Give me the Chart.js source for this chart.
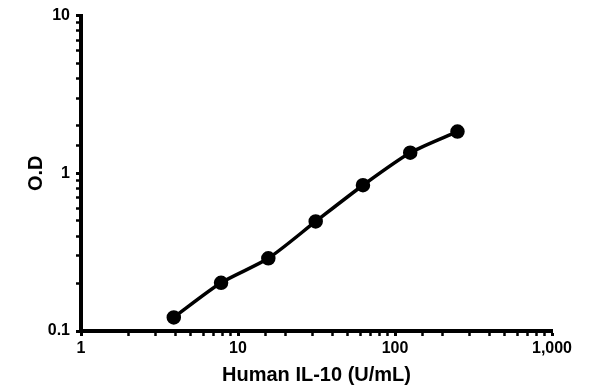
<!DOCTYPE html>
<html>
<head>
<meta charset="utf-8">
<script src="https://cdn.jsdelivr.net/npm/chart.js@4"></script>
<style>
  html, body { margin: 0; padding: 0; background: #fff; }
  #wrap { width: 596px; height: 392px; }
</style>
</head>
<body>
<div id="wrap"><canvas id="myChart"></canvas></div>
<script>
const concentration = [3.9, 7.8, 15.6, 31.25, 62.5, 125, 250];
const od = [0.122, 0.202, 0.289, 0.495, 0.84, 1.35, 1.84];
const xTicks = [1, 10, 100, 1000];
const yTicks = [0.1, 1, 10];

const isMajor = (v, list) => list.some(t => Math.abs(t - v) < t * 1e-6);
const font = { family: 'Arial, "Liberation Sans", sans-serif', weight: 'bold' };

const ctx = document.getElementById('myChart');
new Chart(ctx, {
  type: 'line',
  data: {
    datasets: [{
      label: 'O.D',
      data: concentration.map((c, i) => ({ x: c, y: od[i] })),
      borderColor: '#000',
      backgroundColor: '#000',
      borderWidth: 3.5,
      pointRadius: 5.5,
      pointHoverRadius: 5.5,
      tension: 0.25
    }]
  },
  options: {
    responsive: true,
    maintainAspectRatio: false,
    animation: false,
    layout: { padding: { top: 14, right: 44, left: 24, bottom: 0 } },
    plugins: { legend: { display: false }, tooltip: { enabled: false } },
    scales: {
      x: {
        type: 'logarithmic',
        min: 1,
        max: 1000,
        afterFit: s => { s.height = 61; },
        border: { color: '#000', width: 4 },
        grid: {
          drawOnChartArea: false,
          tickLength: 5,
          tickColor: '#000',
          tickWidth: c => isMajor(c.tick.value, xTicks) ? 3 : 2.5
        },
        ticks: {
          autoSkip: false,
          maxRotation: 0,
          color: '#000',
          padding: 3,
          font: { ...font, size: 16 },
          callback: v => isMajor(v, xTicks) ? v.toLocaleString('en-US') : ''
        },
        title: {
          display: true,
          text: 'Human IL-10 (U/mL)',
          color: '#000',
          font: { ...font, size: 20 },
          padding: { top: 0, bottom: 5 }
        }
      },
      y: {
        type: 'logarithmic',
        min: 0.1,
        max: 10,
        afterFit: s => { s.width = 57; },
        border: { color: '#000', width: 4 },
        grid: {
          drawOnChartArea: false,
          tickLength: 5,
          tickColor: '#000',
          tickWidth: c => isMajor(c.tick.value, yTicks) ? 3 : 2.5
        },
        ticks: {
          autoSkip: false,
          color: '#000',
          padding: 6,
          font: { ...font, size: 16 },
          callback: v => isMajor(v, yTicks) ? String(v) : ''
        },
        title: {
          display: true,
          text: 'O.D',
          color: '#000',
          font: { ...font, size: 20 },
          padding: { top: 0, bottom: 0 }
        }
      }
    }
  }
});
</script>
</body>
</html>
